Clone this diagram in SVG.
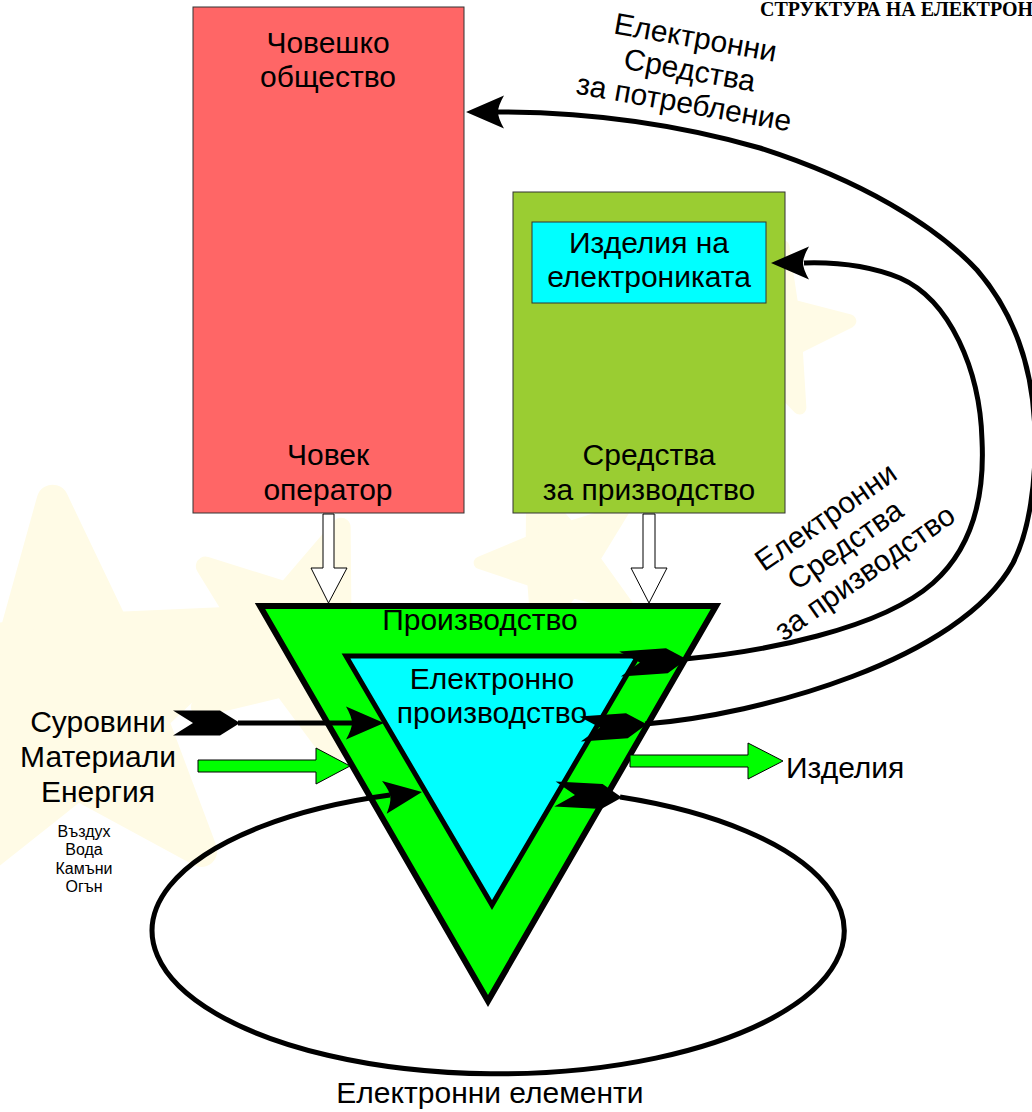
<svg xmlns="http://www.w3.org/2000/svg" xmlns:xlink="http://www.w3.org/1999/xlink" width="1032" height="1112" viewBox="0 0 1032 1112">
  <style>
    text { font-family: "Liberation Sans", Arial, sans-serif; fill: #000; }
    .lbl { font-size: 30px; text-anchor: middle; }
    .sm { font-size: 16px; text-anchor: middle; }
    .title { font-family: "Liberation Serif", "Times New Roman", serif; font-size: 20px; font-weight: bold; }
    .box { stroke: #333; stroke-width: 1; }
    .wire { fill: none; stroke: #000; stroke-width: 5; }
    .hollow { fill: #fff; stroke: #000; stroke-width: 1; }
    .flow { fill: #00ff00; stroke: #000; stroke-width: 1; }
    .star { fill: #fffbe6; stroke: #fffbe6; stroke-width: 16; stroke-linejoin: round; }
  </style>
  <defs>
    <!-- soft five-point star used for the watermark -->
    <path id="star" d="M0,-100 L24.7,-34 L95.1,-30.9 L39.9,13 L58.8,80.9 L0,42 L-58.8,80.9 L-39.9,13 L-95.1,-30.9 L-24.7,-34 Z"/>
    <!-- arrowhead pointing along +x, tip at origin -->
    <path id="head" d="M0,0 L-38,-16.5 Q-32,-6 -32,0 Q-32,6 -38,16.5 Z"/>
    <!-- feathered tail pointing along +x, tip at (67,0) -->
    <path id="tail" d="M0,-12.5 L47,-12.5 L67,0 L47,12.5 L0,12.5 L20,0 Z"/>
  </defs>

  <rect width="1032" height="1112" fill="#fff"/>

  <!-- background watermark -->
  <g id="watermark">
    <use xlink:href="#star" class="star" transform="translate(70,700) rotate(-5) scale(2.0)"/>
    <use xlink:href="#star" class="star" transform="translate(300,640) rotate(20) scale(1.2)"/>
    <use xlink:href="#star" class="star" transform="translate(560,560) rotate(-20) scale(0.8)"/>
    <use xlink:href="#star" class="star" transform="translate(765,330) rotate(12) scale(0.85)"/>
  </g>

  <text class="title" x="760" y="16">СТРУКТУРА НА ЕЛЕКТРОН</text>

  <g id="society">
    <rect class="box" x="193" y="7" width="271" height="506" fill="#ff6666"/>
    <text class="lbl" x="328" y="53">Човешко</text>
    <text class="lbl" x="328" y="87">общество</text>
    <text class="lbl" x="328" y="465">Човек</text>
    <text class="lbl" x="328" y="500">оператор</text>
  </g>

  <g id="means">
    <rect class="box" x="513" y="192" width="272" height="321" fill="#9acd32"/>
    <text class="lbl" x="649" y="465">Средства</text>
    <text class="lbl" x="649" y="500">за призводство</text>
  </g>

  <g id="products-electronics">
    <rect class="box" x="532" y="222" width="234" height="81" fill="#00ffff"/>
    <text class="lbl" x="649" y="253">Изделия на</text>
    <text class="lbl" x="649" y="287">електрониката</text>
  </g>

  <g id="production">
    <polygon points="260,606 716,606 488,1001" fill="#00ff00" stroke="#000" stroke-width="6"/>
    <text class="lbl" x="480" y="630">Производство</text>
  </g>

  <g id="electronic-production">
    <polygon points="346,656 638,656 492,905" fill="#00ffff" stroke="#000" stroke-width="5"/>
    <text class="lbl" x="492" y="689">Електронно</text>
    <text class="lbl" x="492" y="723">производство</text>
  </g>

  <g id="inputs">
    <text class="lbl" x="98" y="732">Суровини</text>
    <text class="lbl" x="98" y="767">Материали</text>
    <text class="lbl" x="98" y="802">Енергия</text>
    <text class="sm" x="84" y="837">Въздух</text>
    <text class="sm" x="84" y="855">Вода</text>
    <text class="sm" x="84" y="874">Камъни</text>
    <text class="sm" x="84" y="892">Огън</text>
  </g>

  <g id="products">
    <text x="786" y="778" font-size="30">Изделия</text>
  </g>

  <g id="elements">
    <text class="lbl" x="490" y="1103">Електронни елементи</text>
  </g>

  <g id="consumer-label" transform="translate(688,80) rotate(10)">
    <text class="lbl" x="0" y="-33">Електронни</text>
    <text class="lbl" x="0" y="0">Средства</text>
    <text class="lbl" x="0" y="33">за потребление</text>
  </g>

  <g id="equipment-label" transform="translate(851,553) rotate(-35)">
    <text class="lbl" x="0" y="-34">Електронни</text>
    <text class="lbl" x="0" y="0">Средства</text>
    <text class="lbl" x="0" y="34">за призводство</text>
  </g>

  <g id="connectors">
    <!-- operator and means of production feed production -->
    <polygon class="hollow" points="323,514 334,514 334,568 347,568 328.5,603 311,568 323,568"/>
    <polygon class="hollow" points="643,514 655,514 655,568 667,568 649,603 631,568 643,568"/>

    <!-- raw materials -->
    <use xlink:href="#tail" transform="translate(173,723)"/>
    <path class="wire" d="M238,723 L352,723"/>
    <use xlink:href="#head" transform="translate(384,723)"/>

    <!-- energy -->
    <polygon class="flow" points="198,760 316,760 316,748 350,766 316,784 316,772 198,772"/>

    <!-- finished products -->
    <polygon class="flow" points="630,755 748,755 748,743 783,761 748,779 748,767 630,767"/>

    <!-- electronic elements loop -->
    <use xlink:href="#tail" transform="translate(555,794) rotate(3)"/>
    <path class="wire" d="M620,797 A346,143 0 1 1 390,795"/>
    <use xlink:href="#head" transform="translate(422,792) rotate(-8)"/>

    <!-- electronic equipment back to the electronics products -->
    <use xlink:href="#tail" transform="translate(620,664) rotate(-4)"/>
    <path class="wire" d="M685,659 C760,652 880,630 933,583 C970,550 985,500 982,440 C980,370 950,300 900,278 C870,266 835,262 804,263"/>
    <use xlink:href="#head" transform="translate(771,263) rotate(180)"/>

    <!-- consumer electronics back to society -->
    <use xlink:href="#tail" transform="translate(580,729) rotate(-4)"/>
    <path class="wire" d="M645,724 C760,715 960,660 1013,563 C1030,530 1036,480 1035,435 C1034,380 1020,320 977,270 C935,225 860,180 760,148 C690,128 600,112 498,112"/>
    <use xlink:href="#head" transform="translate(466,112) rotate(180)"/>
  </g>
</svg>
